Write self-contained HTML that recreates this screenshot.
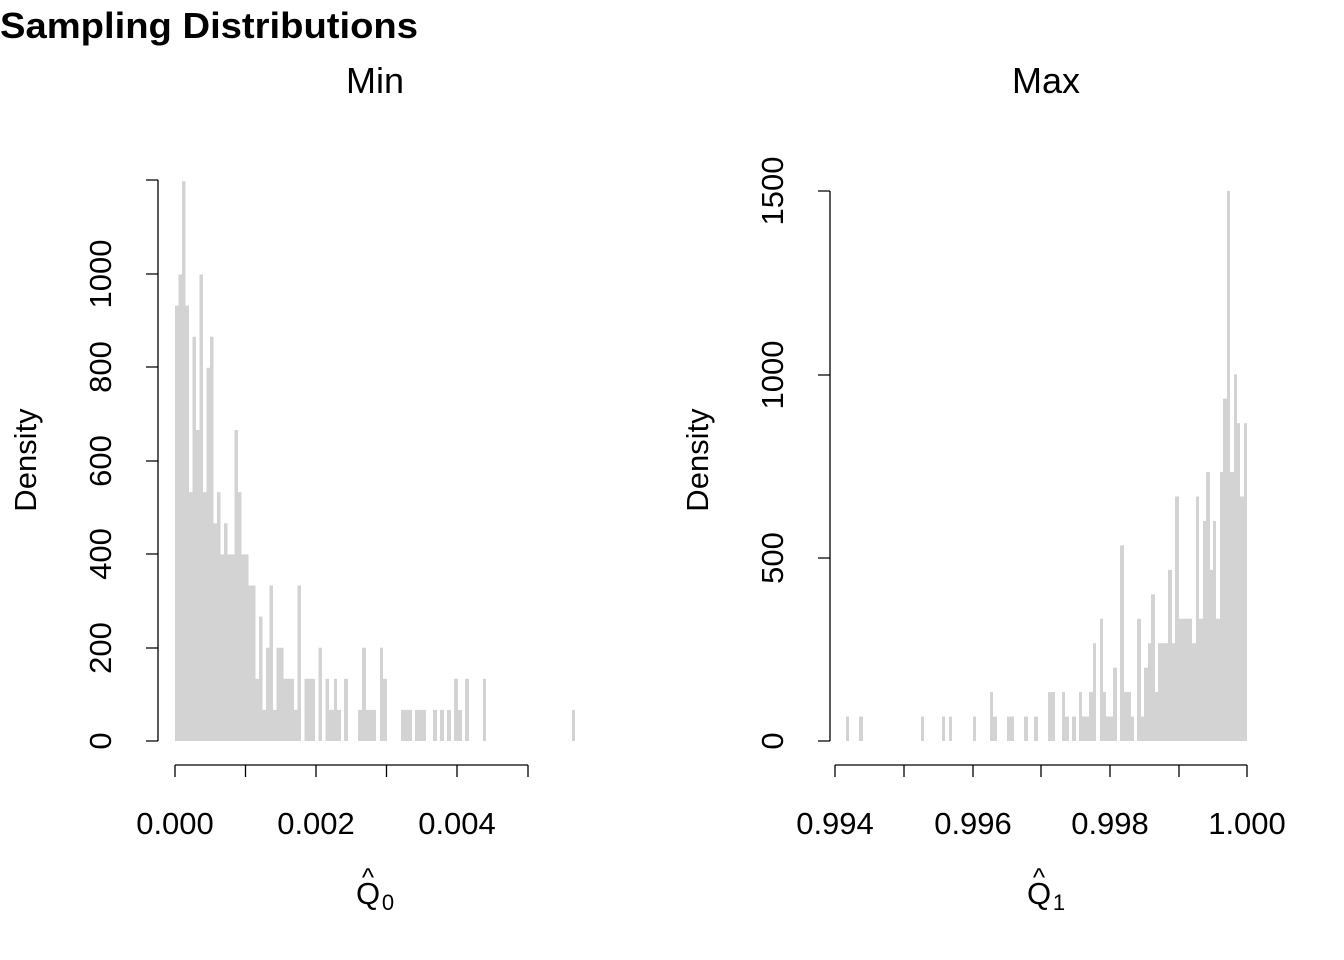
<!DOCTYPE html>
<html><head><meta charset="utf-8"><style>
html,body{margin:0;padding:0;background:#fff;}
svg{display:block;font-family:"Liberation Sans",sans-serif;}
</style></head><body>
<svg id="s" width="1344" height="960" viewBox="0 0 1344 960" xmlns="http://www.w3.org/2000/svg">
<rect width="1344" height="960" fill="#fff"/>
<g id="bars" fill="#d3d3d3"></g>
<text x="0" y="38" font-size="36" font-weight="bold" textLength="418" lengthAdjust="spacingAndGlyphs">Sampling Distributions</text>
<text x="375" y="93" font-size="36" text-anchor="middle">Min</text>
<text x="1046" y="93" font-size="36" text-anchor="middle">Max</text>
<g stroke="#000" stroke-width="1.3" fill="none">
<path d="M158,180V741"/>
<path d="M146,741H158M146,648H158M146,554H158M146,461H158M146,367H158M146,274H158M146,180H158"/>
<path d="M175,765H528M175,765V777M245.5,765V777M316,765V777M386.5,765V777M457,765V777M528,765V777"/>
<path d="M830,191V741"/>
<path d="M818,741H830M818,558H830M818,375H830M818,191H830"/>
<path d="M835,765H1247M835,765V777M904,765V777M973,765V777M1041,765V777M1110,765V777M1179,765V777M1247,765V777"/>
</g>
<g font-size="31" text-anchor="middle">
<text transform="translate(111,741) rotate(-90)">0</text>
<text transform="translate(111,648) rotate(-90)">200</text>
<text transform="translate(111,554) rotate(-90)">400</text>
<text transform="translate(111,461) rotate(-90)">600</text>
<text transform="translate(111,367) rotate(-90)">800</text>
<text transform="translate(111,274) rotate(-90)">1000</text>
<text transform="translate(783,741) rotate(-90)">0</text>
<text transform="translate(783,558) rotate(-90)">500</text>
<text transform="translate(783,375) rotate(-90)">1000</text>
<text transform="translate(783,191) rotate(-90)">1500</text>
<text x="175" y="834">0.000</text>
<text x="316" y="834">0.002</text>
<text x="457" y="834">0.004</text>
<text x="835" y="834">0.994</text>
<text x="973" y="834">0.996</text>
<text x="1110" y="834">0.998</text>
<text x="1247" y="834">1.000</text>
<text transform="translate(36,460) rotate(-90)">Density</text>
<text transform="translate(708,460) rotate(-90)">Density</text>
<text x="368" y="904">Q</text><text x="368" y="886" font-size="26">^</text><text x="388" y="910" font-size="22">0</text>
<text x="1039" y="904">Q</text><text x="1039" y="886" font-size="26">^</text><text x="1059" y="910" font-size="22">1</text>
</g>
</svg>
<script>
var g=document.getElementById('bars'),ns='http://www.w3.org/2000/svg';
function r(x1,x2,h){var e=document.createElementNS(ns,'rect');e.setAttribute('x',x1);e.setAttribute('y',741-h);e.setAttribute('width',x2-x1);e.setAttribute('height',h);g.appendChild(e);}
var L=[14,15,18,14,8,13,10,15,8,12,13,7,8,6,7,6,6,10,8,6,6,5,5,2,4,1,3,5,1,3,3,2,2,2,1,5,0,2,2,2,0,3,0,2,1];
var lu=31.1;
for(var i=0;i<L.length;i++){if(L[i])r(175+3.5*i,175+3.5*(i+1),L[i]*lu);}
var L2=[[330,341,1],[334,337,2],[344,348,2],[358,376,1],[362,366,3],[380,387,2],[380,383,3],[401,412,1],[415,426,1],[433,437,1],[440,444,1],[447,451,1],[454,462,1],[454,458,2],[465,469,2],[483,486,2],[572,575,1]];
L2.forEach(function(b){r(b[0],b[1],b[2]*lu);});
var ru=24.45;
var R=[[846,849,1],[859,863,1],[921,924,1],[942,945,1],[949,952,1],[973,976,1],[990,997,1],[990,993,2],[1007,1014,1],[1024,1028,1],[1034,1038,1],[1048,1055,2],
[1062,1065,2],[1065,1069,1],[1072,1076,1],[1079,1082,2],[1082,1089,1],[1089,1093,2],[1093,1096,4],[1100,1103,5],[1103,1106,2],[1106,1113,1],[1113,1117,3],
[1120,1124,8],[1124,1131,2],[1131,1134,1],[1137,1141,5],[1141,1144,1],[1144,1148,3],[1148,1151,4],[1151,1155,6],[1155,1158,2],[1158,1168,4],[1168,1172,7],
[1172,1175,4],[1175,1179,10],[1179,1192,5],[1192,1196,4],[1196,1199,10],[1199,1203,5],[1203,1206,9],[1206,1210,11],[1210,1213,7],[1213,1216,9],[1216,1220,5],
[1220,1223,11],[1223,1227,14],[1227,1230,22.5],[1230,1234,11],[1234,1237,15],[1237,1240,13],[1240,1244,10],[1244,1247,13]];
R.forEach(function(b){r(b[0],b[1],b[2]*ru);});
</script>
</body></html>
